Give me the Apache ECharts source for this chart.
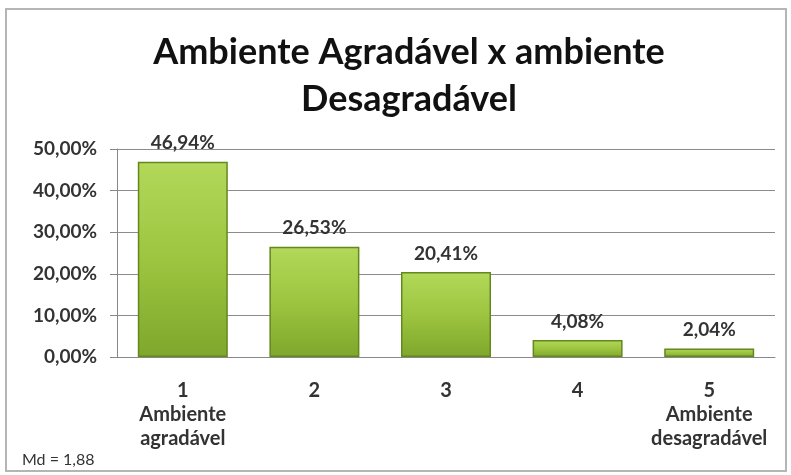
<!DOCTYPE html>
<html lang="pt">
<head>
    <meta charset="UTF-8">
    <script src="https://cdn.jsdelivr.net/npm/echarts@6/dist/echarts.min.js"></script>
    <style>
        html, body { margin: 0; padding: 0; background: #fff; }
        #chart { width: 791px; height: 475px; }
    </style>
</head>
<body>
    <div id="chart"></div>
    <script>
        var categorias = ['1\nAmbiente\nagradável', '2', '3', '4', '5\nAmbiente\ndesagradável']
        var valores = [46.94, 26.53, 20.41, 4.08, 2.04]
        var yTicks = [0, 10, 20, 30, 40, 50]
        var titulo = 'Ambiente Agradável x ambiente\nDesagradável'
        var nota = 'Md = 1,88'

        var fonte = 'Lato, "Open Sans", sans-serif'
        function pct(v) {
            return v.toFixed(2).replace('.', ',') + '%'
        }

        var chart = echarts.init(document.getElementById('chart'))
        chart.setOption({
            animation: false,
            title: {
                text: titulo,
                left: 404,
                top: 24,
                textAlign: 'center',
                textStyle: {
                    fontFamily: fonte,
                    fontWeight: 'bold',
                    fontSize: 36,
                    lineHeight: 47,
                    color: '#111'
                }
            },
            graphic: [
                {
                    type: 'rect',
                    shape: { x: 6, y: 9, width: 780, height: 462 },
                    style: { fill: 'none', stroke: '#b5b5b5', lineWidth: 2 },
                    silent: true
                },
                {
                    type: 'text',
                    left: 22,
                    top: 452,
                    style: {
                        text: nota,
                        font: '16px ' + fonte,
                        fill: '#333'
                    }
                }
            ],
            grid: { left: 117, right: 16, top: 149, bottom: 118 },
            xAxis: {
                type: 'category',
                data: categorias,
                axisLine: { lineStyle: { color: '#888' } },
                axisTick: { length: 6, lineStyle: { color: '#888' } },
                axisLabel: {
                    interval: 0,
                    margin: 22,
                    fontFamily: fonte,
                    fontWeight: 'bold',
                    fontSize: 20,
                    lineHeight: 24,
                    color: '#333'
                }
            },
            yAxis: {
                type: 'value',
                min: yTicks[0],
                max: yTicks[yTicks.length - 1],
                interval: 10,
                axisLine: { show: true, lineStyle: { color: '#888' } },
                axisTick: { show: true, length: 7, lineStyle: { color: '#888' } },
                splitLine: { lineStyle: { color: '#8c8c8c' } },
                axisLabel: {
                    margin: 20,
                    fontFamily: fonte,
                    fontWeight: 'bold',
                    fontSize: 19,
                    color: '#333',
                    formatter: function (v) { return pct(v) }
                }
            },
            series: [{
                type: 'bar',
                data: valores,
                barWidth: 90,
                itemStyle: {
                    color: new echarts.graphic.LinearGradient(0, 0, 0, 1, [
                        { offset: 0, color: '#b3d85a' },
                        { offset: 0.5, color: '#9dc540' },
                        { offset: 1, color: '#7ea72c' }
                    ]),
                    borderColor: '#64881e',
                    borderWidth: 1.5
                },
                label: {
                    show: true,
                    position: 'top',
                    distance: 9,
                    fontFamily: fonte,
                    fontWeight: 'bold',
                    fontSize: 19,
                    color: '#333',
                    formatter: function (p) { return pct(p.value) }
                }
            }]
        })
    </script>
</body>
</html>
